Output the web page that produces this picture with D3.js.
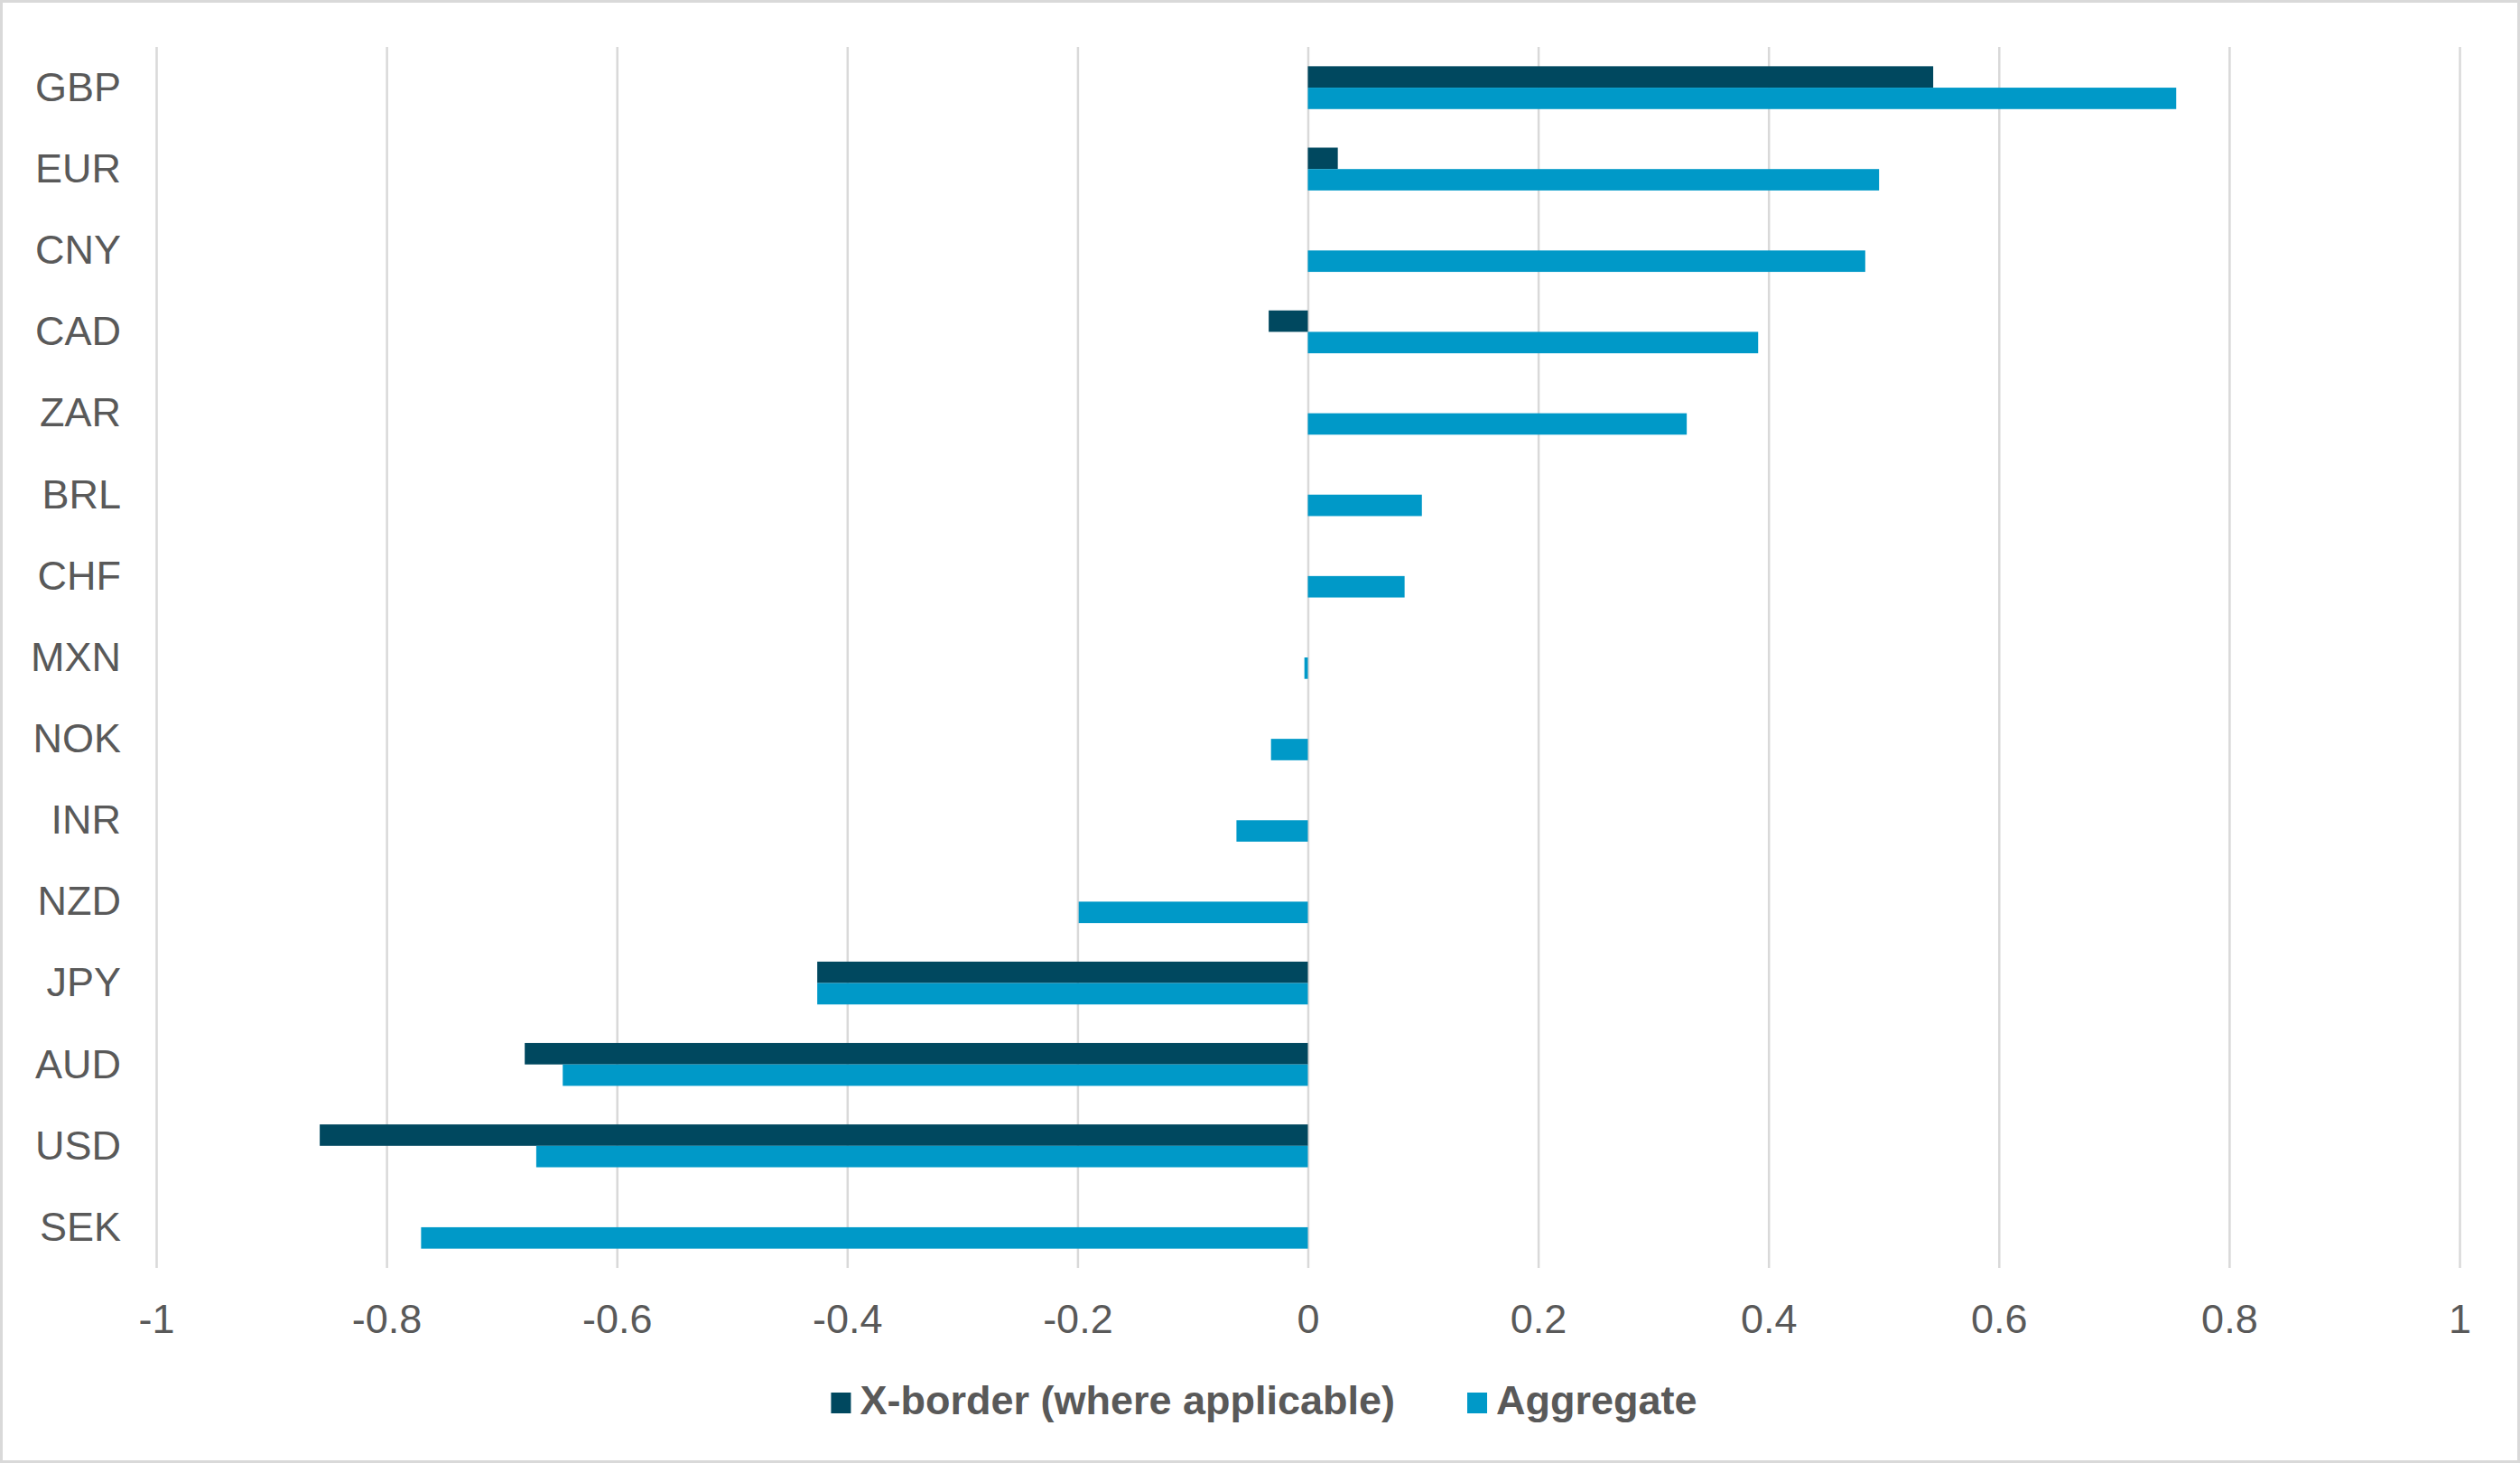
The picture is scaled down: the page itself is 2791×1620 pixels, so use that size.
<!DOCTYPE html>
<html>
<head>
<meta charset="utf-8">
<script src="https://cdn.jsdelivr.net/npm/d3@7"></script>
<style>
  body { margin: 0; background: #fff; }
  svg text { font-family: "Liberation Sans", Arial, sans-serif; fill: #595959; }
</style>
</head>
<body>
<div id="chart"></div>
<script>
// currencies, top to bottom
const categories = ["GBP", "EUR", "CNY", "CAD", "ZAR", "BRL", "CHF", "MXN", "NOK", "INR", "NZD", "JPY", "AUD", "USD", "SEK"];
// null = no x-border value
const xBorder = [0.543, 0.026, null, -0.034, null, null, null, null, null, null, null, -0.426, -0.680, -0.858, null];
const aggregate = [0.754, 0.496, 0.484, 0.391, 0.329, 0.099, 0.084, -0.003, -0.032, -0.062, -0.199, -0.426, -0.647, -0.670, -0.770];
const xTicks = [-1, -0.8, -0.6, -0.4, -0.2, 0, 0.2, 0.4, 0.6, 0.8, 1];
const seriesNames = ["X-border (where applicable)", "Aggregate"];
const seriesColors = ["#00485F", "#0099C8"];

const width = 2791, height = 1620;
const plotTop = 52, plotBottom = 1404, plotLeft = 173, plotRight = 2724;

const svg = d3.select("#chart").append("svg")
  .attr("width", width)
  .attr("height", height);

// outer frame
svg.append("rect")
  .attr("x", 1.5).attr("y", 1.5)
  .attr("width", width - 3).attr("height", height - 3)
  .attr("fill", "#fff")
  .attr("stroke", "#d9d9d9")
  .attr("stroke-width", 3);

const x = d3.scaleLinear().domain([-1, 1]).range([plotLeft, plotRight]);
const y = d3.scaleBand().domain(categories).range([plotTop, plotBottom]).padding(0);
const ySub = d3.scaleBand().domain([0, 1]).range([0, y.step()]).paddingInner(0).paddingOuter(0.9);

// gridlines
const grid = svg.append("g")
  .attr("transform", `translate(0,${plotBottom})`)
  .call(d3.axisBottom(x).tickValues(xTicks).tickSize(-(plotBottom - plotTop)).tickFormat(""));
grid.select(".domain").remove();
grid.selectAll("line").attr("stroke", "#d9d9d9").attr("stroke-width", 2.5);

// x tick labels
const xAxis = svg.append("g")
  .attr("transform", `translate(0,${plotBottom})`)
  .call(d3.axisBottom(x).tickValues(xTicks).tickSize(0)
    .tickFormat(d => String(+d.toFixed(1))));
xAxis.select(".domain").remove();
xAxis.selectAll("text")
  .attr("font-size", 45)
  .attr("font-family", null)
  .attr("dy", null)
  .attr("y", 72);

// category labels
const yAxis = svg.append("g")
  .attr("transform", `translate(${plotLeft},0)`)
  .call(d3.axisLeft(y).tickSize(0).tickPadding(39));
yAxis.select(".domain").remove();
yAxis.selectAll("text")
  .attr("font-size", 45)
  .attr("font-family", null)
  .attr("dy", "0.33em");

// bars
const series = [xBorder, aggregate];
series.forEach((vals, s) => {
  svg.append("g")
    .selectAll("rect")
    .data(vals.map((v, i) => ({ cat: categories[i], v: v })).filter(d => d.v !== null))
    .enter()
    .append("rect")
    .attr("x", d => x(Math.min(0, d.v)))
    .attr("width", d => Math.abs(x(d.v) - x(0)))
    .attr("y", d => y(d.cat) + ySub(s))
    .attr("height", ySub.bandwidth())
    .attr("fill", seriesColors[s]);
});

// legend
const legend = svg.append("g").attr("transform", "translate(0,1566)");
const items = legend.selectAll("g")
  .data(seriesNames)
  .enter()
  .append("g");
items.append("rect")
  .attr("y", -24)
  .attr("width", 22)
  .attr("height", 23)
  .attr("fill", (d, i) => seriesColors[i]);
items.append("text")
  .attr("x", 32)
  .attr("font-size", 45)
  .attr("font-weight", "bold")
  .text(d => d);

let pos = 0;
const offsets = [];
items.each(function(d, i) {
  offsets.push(pos);
  const w = d3.select(this).select("text").node().getComputedTextLength();
  pos += 32 + w + (i < seriesNames.length - 1 ? 80 : 0);
});
const startX = 1400 - pos / 2;
items.attr("transform", (d, i) => `translate(${startX + offsets[i]},0)`);
</script>
</body>
</html>
